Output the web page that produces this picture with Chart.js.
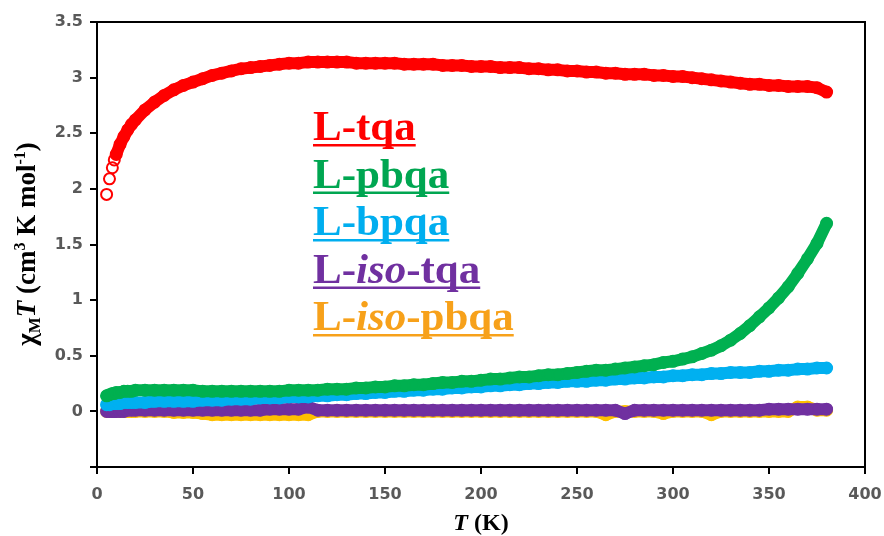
<!DOCTYPE html>
<html>
<head>
<meta charset="utf-8">
<script src="https://cdn.jsdelivr.net/npm/chart.js@4.4.1/dist/chart.umd.min.js"></script>
<style>
  html, body { margin: 0; padding: 0; background: #fff; }
  #wrap { width: 884px; height: 536px; }
</style>
</head>
<body>
<div id="wrap"><canvas id="chi" width="884" height="536"></canvas></div>
<script>
// Temperatures (K), shared by every series
const temps = [5, 6.5, 8, 9, 10, 12, 14, 16, 18, 20,
  25, 30, 35, 40, 45, 50, 55, 60, 65, 70,
  75, 80, 85, 90, 95, 100, 105, 110, 115, 120,
  125, 130, 135, 140, 145, 150, 155, 160, 165, 170,
  175, 180, 185, 190, 195, 200, 205, 210, 215, 220,
  225, 230, 235, 240, 245, 250, 255, 260, 265, 270,
  275, 280, 285, 290, 295, 300, 305, 310, 315, 320,
  325, 330, 335, 340, 345, 350, 355, 360, 365, 370,
  375, 380];

// chi_M T (cm3 K mol-1)
const tqa = [1.95, 2.09, 2.19, 2.26, 2.31, 2.40, 2.47, 2.53, 2.58, 2.62,
  2.71, 2.78, 2.84, 2.89, 2.93, 2.96, 2.99, 3.02, 3.04, 3.06,
  3.08, 3.09, 3.10, 3.11, 3.12, 3.13, 3.13, 3.14, 3.14, 3.14,
  3.14, 3.14, 3.13, 3.13, 3.13, 3.13, 3.13, 3.12, 3.12, 3.12,
  3.12, 3.11, 3.11, 3.11, 3.10, 3.10, 3.10, 3.09, 3.09, 3.09,
  3.08, 3.08, 3.07, 3.07, 3.06, 3.06, 3.05, 3.05, 3.04, 3.04,
  3.03, 3.03, 3.03, 3.02, 3.02, 3.01, 3.01, 3.00, 2.99, 2.98,
  2.97, 2.96, 2.95, 2.94, 2.94, 2.93, 2.93, 2.92, 2.92, 2.92,
  2.91, 2.87];

const pbqa = [0.14, 0.15, 0.16, 0.16, 0.17, 0.17, 0.18, 0.18, 0.18, 0.19,
  0.19, 0.19, 0.19, 0.19, 0.19, 0.19, 0.18, 0.18, 0.18, 0.18,
  0.18, 0.18, 0.18, 0.18, 0.18, 0.19, 0.19, 0.19, 0.19, 0.20,
  0.20, 0.20, 0.21, 0.21, 0.22, 0.22, 0.23, 0.23, 0.24, 0.24,
  0.25, 0.26, 0.26, 0.27, 0.27, 0.28, 0.29, 0.29, 0.30, 0.31,
  0.31, 0.32, 0.33, 0.33, 0.34, 0.35, 0.36, 0.37, 0.37, 0.38,
  0.39, 0.40, 0.41, 0.42, 0.44, 0.45, 0.47, 0.49, 0.52, 0.55,
  0.59, 0.64, 0.70, 0.77, 0.85, 0.93, 1.02, 1.12, 1.24, 1.37,
  1.51, 1.69];

const bpqa = [0.06, 0.06, 0.07, 0.07, 0.07, 0.07, 0.08, 0.08, 0.08, 0.08,
  0.08, 0.09, 0.09, 0.09, 0.09, 0.09, 0.10, 0.10, 0.10, 0.11,
  0.11, 0.11, 0.12, 0.12, 0.12, 0.13, 0.13, 0.13, 0.14, 0.14,
  0.15, 0.15, 0.16, 0.16, 0.17, 0.17, 0.18, 0.18, 0.19, 0.19,
  0.20, 0.20, 0.21, 0.21, 0.22, 0.22, 0.23, 0.23, 0.24, 0.24,
  0.25, 0.25, 0.26, 0.26, 0.27, 0.27, 0.27, 0.28, 0.28, 0.29,
  0.29, 0.30, 0.30, 0.31, 0.31, 0.32, 0.32, 0.33, 0.33, 0.34,
  0.34, 0.35, 0.35, 0.35, 0.36, 0.36, 0.37, 0.37, 0.38, 0.38,
  0.39, 0.39];

const isoTqa = [0.00, 0.00, 0.00, 0.00, 0.00, 0.00, 0.00, 0.01, 0.01, 0.01,
  0.01, 0.01, 0.01, 0.01, 0.01, 0.01, 0.01, 0.01, 0.01, 0.01,
  0.01, 0.01, 0.01, 0.02, 0.02, 0.02, 0.02, 0.04, 0.01, 0.01,
  0.01, 0.01, 0.01, 0.01, 0.01, 0.01, 0.01, 0.01, 0.01, 0.01,
  0.01, 0.01, 0.01, 0.01, 0.01, 0.01, 0.01, 0.01, 0.01, 0.01,
  0.01, 0.01, 0.01, 0.01, 0.01, 0.01, 0.01, 0.01, 0.01, 0.01,
  -0.02, 0.01, 0.01, 0.01, 0.01, 0.01, 0.01, 0.01, 0.01, 0.01,
  0.01, 0.01, 0.01, 0.01, 0.01, 0.02, 0.02, 0.02, 0.02, 0.02,
  0.02, 0.02];

const isoPbqa = [0.00, 0.00, 0.00, 0.00, 0.00, 0.00, 0.00, 0.00, 0.00, 0.00,
  0.00, 0.00, 0.00, -0.01, -0.01, -0.01, -0.02, -0.03, -0.03, -0.03,
  -0.03, -0.03, -0.03, -0.03, -0.03, -0.03, -0.03, -0.03, 0.00, 0.00,
  0.00, 0.00, 0.00, 0.00, 0.00, 0.00, 0.00, 0.00, 0.00, 0.00,
  0.00, 0.00, 0.00, 0.00, 0.00, 0.00, 0.00, 0.00, 0.00, 0.00,
  0.00, 0.00, 0.00, 0.00, 0.00, 0.00, 0.00, 0.00, -0.03, 0.00,
  0.00, 0.00, 0.00, 0.00, -0.02, 0.00, 0.00, 0.00, 0.00, -0.03,
  0.00, 0.00, 0.00, 0.00, 0.00, 0.00, 0.00, 0.00, 0.04, 0.04,
  0.01, 0.01];

const seriesNames = ['L-tqa', 'L-pbqa', 'L-bpqa', 'L-iso-tqa', 'L-iso-pbqa'];
const seriesValues = [tqa, pbqa, bpqa, isoTqa, isoPbqa];
const xTicks = { min: 0, max: 400, step: 50 };
const yTicks = { min: -0.5, max: 3.5, step: 0.5 };

const markerColors = ['#FF0000', '#00B050', '#00B0F0', '#7030A0', '#FFC000'];
const labelColors = ['#FF0000', '#00A651', '#00AEEF', '#7030A0', '#F7A11A'];
const drawOrder = [1, 2, 3, 4, 5]; // lower = drawn on top

const SERIF = '"Liberation Serif", "Times New Roman", serif';

function makeDataset(i) {
  const pts = temps.map((t, k) => ({ x: t, y: seriesValues[i][k] }));
  const ds = {
    label: seriesNames[i],
    data: pts,
    showLine: true,
    borderColor: markerColors[i],
    borderWidth: 12,
    borderCapStyle: 'round',
    borderJoinStyle: 'round',
    tension: 0,
    pointRadius: 5.5,
    pointBorderWidth: 2,
    pointBackgroundColor: 'rgba(0,0,0,0)',
    pointBorderColor: markerColors[i],
    order: drawOrder[i]
  };
  if (i === 0) {
    // the first few low-temperature points sit apart as open rings
    ds.segment = { borderColor: c => c.p0.parsed.x < 10 ? 'rgba(0,0,0,0)' : undefined };
  }
  return ds;
}

// draws the frame, the coloured labels and the axis titles
const decorations = {
  id: 'decorations',
  afterDraw(chart) {
    const { ctx, chartArea: a } = chart;
    ctx.save();

    // top and right side of the frame
    ctx.strokeStyle = '#000';
    ctx.lineWidth = 2;
    ctx.beginPath();
    ctx.moveTo(a.left, a.top);
    ctx.lineTo(a.right, a.top);
    ctx.lineTo(a.right, a.bottom);
    ctx.stroke();

    // series labels (underlined, "iso" in italics)
    const size = 43;
    let baseY = 140;
    seriesNames.forEach((name, i) => {
      let x = 313;
      const parts = name.split(/(iso)/).filter(s => s.length);
      ctx.fillStyle = labelColors[i];
      ctx.textBaseline = 'alphabetic';
      ctx.textAlign = 'left';
      parts.forEach(p => {
        ctx.font = (p === 'iso' ? 'italic ' : '') + 'bold ' + size + 'px ' + SERIF;
        ctx.fillText(p, x, baseY);
        x += ctx.measureText(p).width;
      });
      ctx.fillRect(313, baseY + 4, x - 313, 2.5);
      baseY += 47.5;
    });

    // x title: T (K)
    const xParts = [['T', 'italic bold 24px '], [' (K)', 'bold 24px ']];
    let w = 0;
    xParts.forEach(p => { ctx.font = p[1] + SERIF; w += ctx.measureText(p[0]).width; });
    let cx = (a.left + a.right) / 2 - w / 2;
    ctx.fillStyle = '#000';
    ctx.textBaseline = 'alphabetic';
    xParts.forEach(p => {
      ctx.font = p[1] + SERIF;
      ctx.fillText(p[0], cx, 530);
      cx += ctx.measureText(p[0]).width;
    });

    // y title: chi_M T (cm3 K mol-1)
    const yParts = [
      ['χ', 'bold 27px ', 0], ['M', 'bold 17px ', 5], ['T', 'italic bold 27px ', 0],
      [' (cm', 'bold 27px ', 0], ['3', 'bold 16px ', -10], [' K mol', 'bold 27px ', 0],
      ['-1', 'bold 16px ', -10], [')', 'bold 27px ', 0]
    ];
    w = 0;
    yParts.forEach(p => { ctx.font = p[1] + SERIF; w += ctx.measureText(p[0]).width; });
    ctx.translate(35, 244);
    ctx.rotate(-Math.PI / 2);
    cx = -w / 2;
    yParts.forEach(p => {
      ctx.font = p[1] + SERIF;
      ctx.fillText(p[0], cx, p[2]);
      cx += ctx.measureText(p[0]).width;
    });

    ctx.restore();
  }
};

const tickFont = { family: '"DejaVu Sans", sans-serif', size: 16, weight: 'bold' };

new Chart(document.getElementById('chi'), {
  type: 'scatter',
  data: { datasets: seriesNames.map((_, i) => makeDataset(i)) },
  options: {
    responsive: false,
    animation: false,
    devicePixelRatio: 1,
    layout: { padding: { top: 22, right: 0, left: 0, bottom: 0 } },
    plugins: { legend: { display: false }, tooltip: { enabled: false } },
    scales: {
      x: {
        type: 'linear',
        min: xTicks.min,
        max: xTicks.max,
        afterFit: s => { s.height = 69; s.paddingRight = 19; },
        ticks: { stepSize: xTicks.step, color: '#595959', font: tickFont, padding: 11, maxRotation: 0 },
        grid: { drawOnChartArea: false, drawTicks: true, tickLength: 7, color: '#000', lineWidth: 2 },
        border: { color: '#000', width: 2 }
      },
      y: {
        type: 'linear',
        min: yTicks.min,
        max: yTicks.max,
        afterFit: s => { s.width = 97; },
        ticks: {
          stepSize: yTicks.step,
          color: '#595959',
          font: tickFont,
          padding: 7,
          callback: v => v < 0 ? '' : String(Math.round(v * 10) / 10)
        },
        grid: { drawOnChartArea: false, drawTicks: true, tickLength: 7, color: '#000', lineWidth: 2 },
        border: { color: '#000', width: 2 }
      }
    }
  },
  plugins: [decorations]
});
</script>
</body>
</html>
